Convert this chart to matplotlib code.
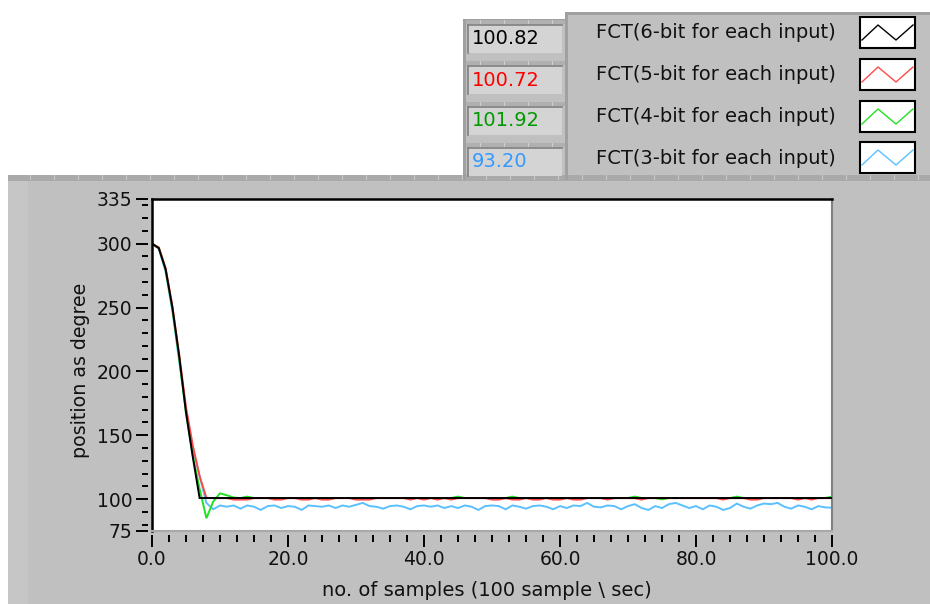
import numpy as np
import matplotlib
matplotlib.use("Agg")
import matplotlib.pyplot as plt
from matplotlib.patches import Rectangle
from matplotlib.lines import Line2D
from matplotlib.ticker import MultipleLocator, FixedLocator, FuncFormatter

# ---------------- data ----------------
samples = np.arange(101)

fct6 = [300, 296.5, 280, 250, 212, 168, 133, 100.82, 100.82, 100.82,
        100.82, 100.82, 100.82, 100.82, 100.82, 100.82, 100.82, 100.82, 100.82, 100.82,
        100.82, 100.82, 100.82, 100.82, 100.82, 100.82, 100.82, 100.82, 100.82, 100.82,
        100.82, 100.82, 100.82, 100.82, 100.82, 100.82, 100.82, 100.82, 100.82, 100.82,
        100.82, 100.82, 100.82, 100.82, 100.82, 100.82, 100.82, 100.82, 100.82, 100.82,
        100.82, 100.82, 100.82, 100.82, 100.82, 100.82, 100.82, 100.82, 100.82, 100.82,
        100.82, 100.82, 100.82, 100.82, 100.82, 100.82, 100.82, 100.82, 100.82, 100.82,
        100.82, 100.82, 100.82, 100.82, 100.82, 100.82, 100.82, 100.82, 100.82, 100.82,
        100.82, 100.82, 100.82, 100.82, 100.82, 100.82, 100.82, 100.82, 100.82, 100.82,
        100.82, 100.82, 100.82, 100.82, 100.82, 100.82, 100.82, 100.82, 100.82, 100.82,
        100.82]

fct5 = [300, 297, 281, 251, 213, 172, 142, 118, 101, 100.72,
        100.72, 100.72, 99.6, 99.6, 99.6, 100.72, 100.72, 100.72, 99.6, 99.6,
        100.72, 100.72, 99.6, 99.6, 100.72, 99.6, 99.6, 100.72, 100.72, 100.72,
        99.6, 99.6, 99.6, 100.72, 100.72, 100.72, 100.72, 100.72, 99.6, 100.72,
        99.6, 100.72, 99.6, 100.72, 99.6, 100.72, 100.72, 100.72, 100.72, 100.72,
        99.6, 99.6, 100.72, 99.6, 99.6, 100.72, 99.6, 99.6, 100.72, 99.6,
        99.6, 100.72, 99.6, 99.6, 100.72, 100.72, 100.72, 99.6, 100.72, 100.72,
        100.72, 100.72, 99.6, 100.72, 100.72, 100.72, 100.72, 100.72, 100.72, 100.72,
        100.72, 100.72, 100.72, 100.72, 99.6, 100.72, 100.72, 100.72, 99.6, 99.6,
        100.72, 100.72, 100.72, 100.72, 100.72, 99.6, 100.72, 99.6, 100.72, 100.72,
        100.72]

fct4 = [300, 297, 280, 249, 210, 167, 134, 108, 85, 98,
        104.5, 103, 101.2, 100.82, 101.92, 100.82, 100.82, 100.82, 100.82, 100.82,
        100.82, 100.82, 100.82, 100.82, 100.82, 100.82, 100.82, 100.82, 100.82, 100.82,
        100.82, 100.82, 100.82, 100.82, 100.82, 100.82, 100.82, 100.82, 100.82, 100.82,
        100.82, 100.82, 100.82, 100.82, 100.82, 101.92, 100.82, 100.82, 100.82, 100.82,
        100.82, 100.82, 100.82, 101.92, 100.82, 100.82, 100.82, 100.82, 100.82, 100.82,
        100.82, 100.82, 100.82, 100.82, 100.82, 100.82, 100.82, 100.82, 100.82, 100.82,
        100.82, 101.92, 100.82, 100.82, 100.82, 99.8, 100.82, 100.82, 100.82, 100.82,
        100.82, 100.82, 100.82, 100.82, 100.82, 100.82, 101.92, 100.82, 100.82, 100.82,
        100.82, 100.82, 100.82, 100.82, 100.82, 100.82, 100.82, 100.82, 100.82, 100.82,
        101.92]

fct3 = [300, 296, 278, 247, 208, 170, 140, 118, 97, 92,
        95, 94, 95, 92.5, 95, 94, 91.5, 94.5, 95, 93,
        94.5, 94, 91.5, 95, 94.5, 94, 95, 93, 95, 94,
        95.5, 97, 94.5, 94, 92.5, 94.5, 95, 94, 92, 94.5,
        95, 94, 95, 93, 94.5, 93, 95, 94, 91.5, 94.5,
        95, 94.5, 92, 95, 94, 92.5, 94.5, 95, 94, 92,
        94.5, 93, 95, 94.5, 97, 94, 93.5, 95, 94.5, 92,
        94.5, 96, 93, 91.5, 94.5, 93, 96, 97, 95, 93,
        94.5, 92, 95, 94, 91.5, 93, 96.5, 94, 92.5, 95,
        96.5, 96, 97, 94, 92.5, 95, 94, 92, 94.5, 93.5,
        93.2]

series_names = ["FCT(6-bit for each input)", "FCT(5-bit for each input)",
                "FCT(4-bit for each input)", "FCT(3-bit for each input)"]
display_values = ["100.82", "100.72", "101.92", "93.20"]
line_colors = ["#000000", "#ff4a4a", "#22e022", "#5cc0ff"]
value_colors = ["#000000", "#ff0000", "#009900", "#3399ff"]

y_major = [75, 100, 150, 200, 250, 300, 335]
y_minor = [80, 90, 110, 120, 130, 140, 160, 170, 180, 190, 210, 220, 230, 240,
           260, 270, 280, 290, 310, 320, 330]

# ---------------- figure ----------------
W, H = 930, 604
fig = plt.figure(figsize=(W / 100, H / 100), dpi=100)
fig.patch.set_facecolor("white")


def fx(x):
    return x / W


def fy(y):
    return 1 - y / H


def rect(x0, y0, x1, y1, fc, ec="none", lw=0, z=-5):
    fig.add_artist(Rectangle((fx(x0), fy(y1)), fx(x1) - fx(x0), fy(y0) - fy(y1),
                             transform=fig.transFigure, fc=fc, ec=ec, lw=lw, zorder=z))


def hline(x0, x1, y, color, lw=1.0, z=-4):
    fig.add_artist(Line2D([fx(x0), fx(x1)], [fy(y), fy(y)], transform=fig.transFigure,
                          color=color, lw=lw, zorder=z))


def vline(x, y0, y1, color, lw=1.0, z=-4):
    fig.add_artist(Line2D([fx(x), fx(x)], [fy(y0), fy(y1)], transform=fig.transFigure,
                          color=color, lw=lw, zorder=z))


GRAY = "#c0c0c0"
# main gray panel
rect(8, 177, W, H, GRAY)
rect(8, 177, 28, H, "#c6c6c6", z=-4.5)
rect(8, 175, W, 181, "#a9a9a9", z=-4.5)
for xx in range(30, W, 24):
    vline(xx, 175, 179, "#d0d0d0", lw=0.6)

# legend panel
rect(565, 12, W, 180, GRAY)
rect(565, 12, W, 15, "#a0a0a0", z=-4.5)
rect(565, 12, 568, 180, "#a0a0a0", z=-4.5)
# digital display column
rect(463, 19, 565, 180, GRAY)
rect(463, 19, 565, 22, "#a0a0a0", z=-4.5)
rect(463, 19, 466, 180, "#a0a0a0", z=-4.5)

box_tops = [25, 66, 107, 148]
for i, (val, col) in enumerate(zip(display_values, value_colors)):
    t = box_tops[i]
    rect(466, t - 5, 565, t - 1, "#b0b0b0", z=-4.4)
    for xx in range(480, 565, 24):
        vline(xx, t - 5, t - 1, "#d8d8d8", lw=0.6, z=-4.3)
    rect(468, t, 562, t + 28, "#d4d4d4", z=-4.2)
    hline(468, 562, t, "#808080", lw=1.2, z=-4.1)
    vline(468, t, t + 28, "#808080", lw=1.2, z=-4.1)
    fig.text(fx(472), fy(t + 14), val, color=col, fontsize=14,
             ha="left", va="center")

legend_text_y = [33, 75, 117, 158]
swatch_tops = [17, 59, 101, 142]
for i in range(4):
    fig.text(fx(596), fy(legend_text_y[i]), series_names[i], color="#111111",
             fontsize=14, ha="left", va="center")
    t = swatch_tops[i]
    rect(860, t, 915, t + 31, "white", ec="black", lw=1.5, z=-4.0)
    fig.add_artist(Line2D([fx(862), fx(878), fx(896), fx(913)],
                          [fy(t + 23), fy(t + 8), fy(t + 23), fy(t + 8)],
                          transform=fig.transFigure, color=line_colors[i], lw=1.0,
                          zorder=-3.9))

# ---------------- plot ----------------
ax = fig.add_axes([fx(152), fy(531), fx(832) - fx(152), fy(199) - fy(531)])
ax.set_zorder(5)
ax.set_facecolor("white")

for vals, col, z in [(fct3, line_colors[3], 2), (fct4, line_colors[2], 3),
                     (fct5, line_colors[1], 4), (fct6, line_colors[0], 5)]:
    ax.plot(samples, vals, color=col, lw=1.4, zorder=z, solid_joinstyle="miter")

ax.set_xlim(0, 100)
ax.set_ylim(75, 335)

ax.xaxis.set_major_locator(MultipleLocator(20))
ax.xaxis.set_minor_locator(MultipleLocator(2.5))
ax.xaxis.set_major_formatter(FuncFormatter(lambda v, p: f"{v:.1f}"))
ax.yaxis.set_major_locator(FixedLocator(y_major))
ax.yaxis.set_minor_locator(FixedLocator(y_minor))
ax.yaxis.set_major_formatter(FuncFormatter(lambda v, p: f"{int(round(v))}"))

ax.spines["left"].set_position(("outward", 3))
ax.spines["bottom"].set_position(("outward", 3))
ax.spines["left"].set_visible(False)
ax.spines["bottom"].set_visible(False)
ax.spines["top"].set_color("black")
ax.spines["top"].set_linewidth(1.8)
ax.spines["right"].set_color("#808080")
ax.spines["right"].set_linewidth(1.5)
ax.plot([0, 0], [0, 1], transform=ax.transAxes, color="black", lw=1.8,
        clip_on=False, zorder=10)
ax.plot([0, 1], [0, 0], transform=ax.transAxes, color="#a8a8a8", lw=1.5,
        clip_on=False, zorder=10)

ax.tick_params(axis="both", which="both", direction="out", color="black",
               labelsize=13.5, labelcolor="#111111")
ax.tick_params(axis="y", which="major", length=9, width=1.4, pad=2)
ax.tick_params(axis="y", which="minor", length=4.5, width=1.4)
ax.tick_params(axis="x", which="major", length=8.5, width=1.4, pad=2)
ax.tick_params(axis="x", which="minor", length=5, width=1.4)

fig.text(fx(80), fy(370), "position as degree", rotation=90, fontsize=13.7,
         ha="center", va="center", color="#111111")
fig.text(fx(487), fy(590), "no. of samples (100 sample \\ sec)", fontsize=14,
         ha="center", va="center", color="#111111")

fig.savefig("out.png", dpi=100)
